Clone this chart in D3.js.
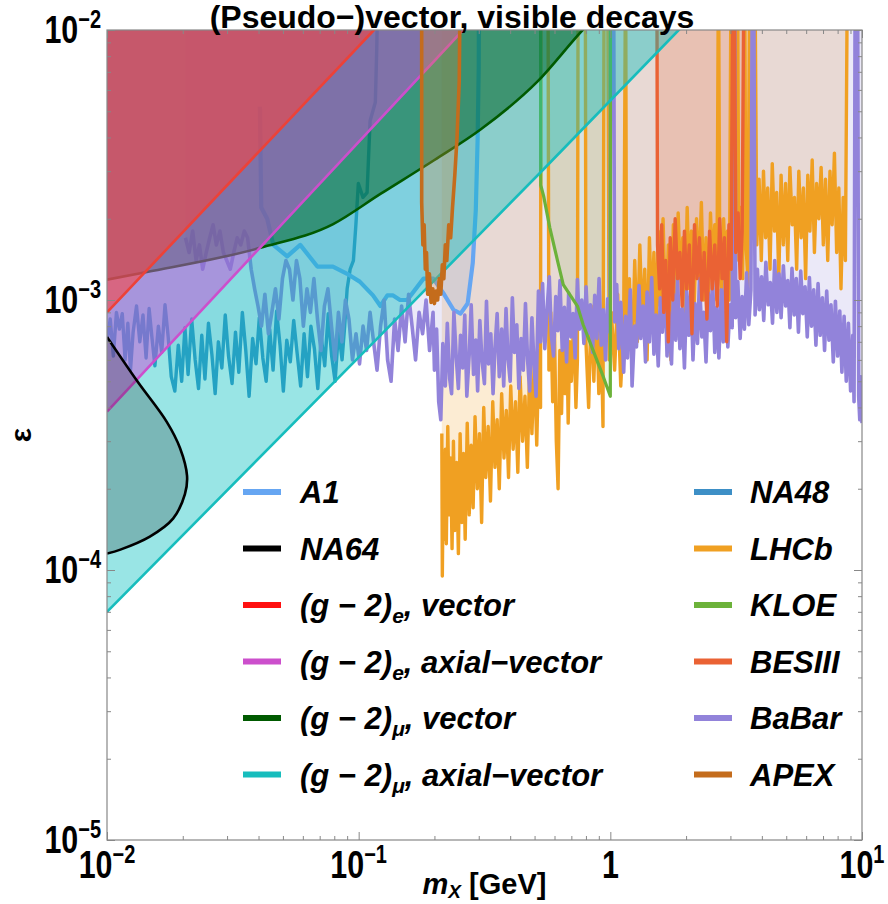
<!DOCTYPE html>
<html>
<head>
<meta charset="utf-8">
<script src="https://cdn.jsdelivr.net/npm/d3@7"></script>
<style>
body { margin: 0; background: #fff; }
text { font-family: "Liberation Sans", Arial, sans-serif; font-weight: bold; fill: #000; }
</style>
</head>
<body>
<svg id="chart" width="888" height="904"></svg>
<script>
// ---- data: masses in GeV, experimental eps values in units of 1e-4 ----
var xDecades = [0.01, 0.1, 1, 10];
var yDecades = [1e-5, 1e-4, 1e-3, 1e-2];

// (g-2) bands, eps as plain numbers
var gm2eVector = [[0.01, 9.0e-4], [0.115, 1.0e-2], [0.3, 2.6e-2]];
var gm2eAxial = [[0.01, 3.86e-4], [0.26, 1.0e-2], [0.5, 1.93e-2]];
var gm2muVector = [[0.01, 1.19e-3], [0.0144, 1.27e-3], [0.0406, 1.56e-3], [0.0792, 1.91e-3],
    [0.122, 2.47e-3], [0.2, 3.3e-3], [0.305, 4.28e-3], [0.514, 6.45e-3], [0.776, 1.0e-2], [1.2, 1.5e-2]];
var gm2muAxial = [[0.01, 7.0e-5], [0.122, 7.4e-4], [0.543, 3.05e-3], [1.87, 1.0e-2], [4, 2.0e-2]];

var na64 = [[0.01, 7.3e-4], [0.0132, 5.0e-4], [0.0173, 3.53e-4], [0.0195, 2.83e-4], [0.0208, 2.23e-4],
    [0.0204, 1.91e-4], [0.0183, 1.55e-4], [0.0148, 1.33e-4], [0.0113, 1.19e-4], [0.01, 1.15e-4]];

var a1 = [[0.0405, 52], [0.041, 22], [0.0433, 20], [0.0458, 16], [0.052, 14.5], [0.0586, 16], [0.0685, 13.3],
    [0.079, 13.3], [0.09, 12.5], [0.101, 11.7], [0.114, 10.4], [0.122, 9.5], [0.13, 10.4], [0.137, 10.4],
    [0.146, 10.0], [0.156, 10.0], [0.181, 12.0], [0.198, 12.0], [0.217, 10.6], [0.238, 9.2], [0.254, 8.9],
    [0.271, 9.7], [0.284, 13.7], [0.292, 21.5], [0.297, 39.7], [0.3, 73], [0.301, 200]];

var na48 = [[0.01, 7.0], [0.0103, 8.5], [0.0106, 6.2], [0.0109, 9.0], [0.0112, 7.8], [0.0115, 8.9], [0.0118, 6.0],
    [0.0121, 8.2], [0.0124, 5.5], [0.0127, 7.6], [0.0131, 9.5], [0.0135, 7.0], [0.0139, 8.8], [0.0143, 6.1],
    [0.0147, 9.3], [0.0151, 7.2], [0.0155, 5.7], [0.016, 8.0], [0.0165, 6.4], [0.017, 9.6], [0.0175, 7.3],
    [0.018, 5.2], [0.0186, 4.6], [0.0192, 6.8], [0.0198, 5.0], [0.0204, 7.9], [0.021, 5.3], [0.0217, 8.5],
    [0.0224, 6.0], [0.0231, 4.7], [0.0238, 7.4], [0.0245, 5.1], [0.0253, 8.2], [0.0261, 6.3], [0.0269, 4.5],
    [0.0277, 7.0], [0.0286, 5.6], [0.0295, 8.8], [0.0304, 6.2], [0.0314, 4.9], [0.0324, 7.6], [0.0334, 5.4],
    [0.0345, 9.0], [0.0356, 6.5], [0.0367, 4.4], [0.0379, 7.2], [0.0391, 5.8], [0.0403, 8.6], [0.0416, 6.1],
    [0.0429, 5.0], [0.0443, 7.8], [0.0457, 5.5], [0.0472, 9.1], [0.0487, 6.8], [0.0502, 4.6], [0.0518, 7.1],
    [0.0535, 5.9], [0.0552, 8.4], [0.057, 6.3], [0.0588, 4.8], [0.0607, 7.5], [0.0626, 5.2], [0.0646, 8.0],
    [0.0667, 6.6], [0.0688, 4.7], [0.071, 7.3], [0.0733, 5.7], [0.0757, 8.9], [0.0781, 6.2], [0.0806, 5.0],
    [0.0832, 7.7], [0.0859, 6.0], [0.088, 8.0], [0.09, 11], [0.0925, 13], [0.0953, 14], [0.0975, 19],
    [0.0997, 27], [0.104, 24], [0.108, 25], [0.111, 46], [0.1165, 54], [0.118, 85], [0.12, 200]];

var apex = [[0.178, 200], [0.178, 23], [0.18, 16], [0.182, 19], [0.184, 13], [0.186, 15], [0.188, 10.5],
    [0.191, 12.5], [0.194, 9.8], [0.197, 11], [0.2, 9.7], [0.203, 10.8], [0.206, 10], [0.209, 12],
    [0.212, 10.5], [0.215, 13.5], [0.218, 12], [0.221, 16], [0.224, 14], [0.228, 19], [0.232, 17],
    [0.236, 22], [0.241, 29], [0.246, 40], [0.251, 65], [0.254, 200]];

var kloe = [[0.528, 200], [0.529, 26.6], [0.543, 24.3], [0.575, 18.5], [0.62, 13.7], [0.65, 11.4],
    [0.74, 9.5], [0.78, 8.1], [0.86, 6.4], [0.93, 5.3], [1.0, 4.4], [1.001, 200]];

var besiii = [[1.53, 200], [1.54, 16], [1.57, 11], [1.6, 19], [1.63, 9.0], [1.66, 14], [1.7, 7.0], [1.73, 17],
    [1.77, 10], [1.81, 20], [1.85, 12], [1.89, 15], [1.93, 9.5], [1.97, 18], [2.01, 11], [2.06, 16], [2.11, 7.5],
    [2.16, 19], [2.21, 12], [2.26, 17], [2.31, 10], [2.36, 15], [2.42, 8.5], [2.48, 18], [2.54, 11], [2.6, 16],
    [2.66, 9.5], [2.72, 20], [2.78, 12], [2.84, 17], [2.9, 7.0], [2.96, 19], [3.02, 13], [3.07, 200], [3.11, 200],
    [3.15, 15], [3.22, 21], [3.28, 12], [3.34, 18], [3.4, 200]];

var lhcb = [[0.214, 3.2], [0.215, 0.95], [0.217, 2.4], [0.219, 1.3], [0.221, 2.8], [0.223, 1.25], [0.226, 3.4],
    [0.229, 1.6], [0.232, 2.6], [0.235, 1.2], [0.238, 3.0], [0.241, 1.4], [0.245, 2.5], [0.249, 1.15],
    [0.253, 3.2], [0.257, 1.5], [0.261, 2.7], [0.265, 1.3], [0.27, 3.5], [0.275, 1.6], [0.28, 2.9], [0.285, 1.7],
    [0.29, 3.7], [0.296, 2.0], [0.302, 3.2], [0.308, 1.5], [0.314, 4.0], [0.32, 2.2], [0.327, 3.4], [0.334, 1.8],
    [0.341, 4.2], [0.348, 2.4], [0.355, 3.6], [0.362, 2.0], [0.37, 4.5], [0.378, 2.6], [0.386, 3.9], [0.394, 2.2],
    [0.402, 4.8], [0.411, 2.8], [0.42, 4.2], [0.429, 2.3], [0.438, 5.2], [0.448, 3.0], [0.458, 4.4], [0.468, 2.4],
    [0.478, 5.6], [0.488, 3.2], [0.499, 6.0], [0.51, 2.9], [0.52, 6.5], [0.528, 4.0], [0.53, 200], [0.565, 200],
    [0.57, 5.5], [0.58, 9.0], [0.59, 4.2], [0.6, 7.5], [0.61, 3.0], [0.62, 2.0], [0.63, 6.5], [0.64, 3.8],
    [0.65, 8.0], [0.66, 4.5], [0.67, 9.0], [0.68, 3.5], [0.69, 7.0], [0.7, 5.0], [0.715, 8.5], [0.73, 4.0],
    [0.74, 6.0], [0.745, 200], [0.795, 200], [0.8, 7.0], [0.82, 4.0], [0.84, 9.5], [0.86, 5.0], [0.88, 10],
    [0.9, 4.5], [0.92, 7.5], [0.935, 3.4], [0.945, 200], [0.975, 200], [0.99, 6.0], [1.01, 9.0], [1.04, 5.5],
    [1.07, 10.5], [1.1, 4.8], [1.13, 8.0], [1.15, 200], [1.16, 7.0], [1.19, 12], [1.22, 5.5], [1.25, 14],
    [1.28, 7.0], [1.31, 16], [1.34, 8.0], [1.37, 13], [1.4, 6.0], [1.43, 17], [1.46, 9.0], [1.49, 15], [1.52, 7.0],
    [1.55, 18], [1.58, 9.5], [1.62, 20], [1.66, 8.0], [1.7, 16], [1.74, 6.0], [1.78, 19], [1.82, 10], [1.86, 21],
    [1.9, 12], [1.94, 17], [1.98, 9.0], [2.02, 22], [2.06, 11], [2.1, 18], [2.15, 8.5], [2.2, 20], [2.25, 12],
    [2.3, 23], [2.35, 10], [2.4, 17], [2.45, 9.0], [2.5, 21], [2.55, 13], [2.6, 19], [2.65, 10], [2.69, 200],
    [2.72, 16], [2.77, 9.5], [2.82, 20], [2.87, 12], [2.92, 18], [2.97, 10], [3.02, 200], [3.2, 200], [3.24, 14],
    [3.3, 22], [3.36, 12], [3.42, 200], [3.45, 18], [3.52, 11], [3.58, 200], [3.75, 200], [3.82, 16], [3.9, 28],
    [3.98, 14], [4.06, 30], [4.14, 17], [4.22, 26], [4.31, 13], [4.4, 32], [4.49, 18], [4.58, 25], [4.67, 12],
    [4.77, 29], [4.87, 16], [4.97, 27], [5.07, 14], [5.17, 31], [5.28, 19], [5.39, 24], [5.5, 13], [5.61, 30],
    [5.73, 17], [5.85, 26], [5.97, 12], [6.09, 29], [6.21, 18], [6.34, 33], [6.47, 15], [6.6, 27], [6.74, 20],
    [6.88, 31], [7.02, 16], [7.16, 28], [7.31, 14], [7.46, 30], [7.61, 19], [7.77, 35], [7.93, 15], [8.09, 26],
    [8.25, 11], [8.42, 24], [8.59, 14], [8.76, 200], [8.9, 200]];

var babar = [[0.0205, 17], [0.0212, 15], [0.0219, 18], [0.0226, 14], [0.0233, 16], [0.024, 13], [0.0248, 15],
    [0.0256, 17], [0.0264, 19], [0.0272, 16], [0.0281, 18], [0.029, 15], [0.0299, 14], [0.0309, 13], [0.0319, 15],
    [0.0329, 17], [0.034, 16], [0.0351, 18], [0.0362, 17], [0.0374, 13], [0.0386, 11], [0.0398, 9.5], [0.0411, 8.0],
    [0.0424, 10.5], [0.0438, 7.5], [0.0452, 9.0], [0.0467, 11], [0.0482, 8.5], [0.0498, 12], [0.0514, 14],
    [0.0531, 13], [0.0548, 10], [0.0566, 14], [0.0584, 12], [0.0603, 8.0], [0.0623, 11], [0.0643, 9.0],
    [0.0664, 12], [0.0686, 8.5], [0.0708, 6.5], [0.0731, 9.5], [0.0755, 11], [0.078, 8.0], [0.0805, 6.0],
    [0.0831, 9.0], [0.0858, 7.0], [0.0886, 10], [0.0915, 8.5], [0.0945, 6.0], [0.0976, 7.5], [0.1008, 5.8],
    [0.1041, 8.0], [0.1075, 6.5], [0.111, 9.0], [0.1146, 7.0], [0.1183, 5.5], [0.1222, 8.0], [0.1262, 10],
    [0.1303, 6.0], [0.1345, 5.0], [0.1389, 8.5], [0.1434, 6.5], [0.1481, 9.5], [0.1529, 7.0], [0.1579, 10.5],
    [0.163, 8.0], [0.1683, 6.0], [0.1738, 9.0], [0.1795, 7.5], [0.1853, 10], [0.1913, 6.5], [0.1975, 9.0],
    [0.2, 5.5], [0.204, 7.8], [0.208, 4.2], [0.212, 3.6], [0.216, 6.9], [0.221, 4.8], [0.225, 8.2], [0.23, 5.1],
    [0.234, 4.5], [0.239, 9.0], [0.244, 6.2], [0.249, 4.7], [0.254, 7.4], [0.259, 5.6], [0.264, 8.8], [0.269, 4.4],
    [0.275, 6.3], [0.28, 9.6], [0.286, 5.3], [0.292, 7.1], [0.297, 4.6], [0.303, 8.4], [0.309, 6.0], [0.316, 4.9],
    [0.322, 9.9], [0.328, 5.8], [0.335, 7.5], [0.342, 4.5], [0.348, 6.6], [0.355, 8.9], [0.362, 5.2], [0.37, 7.8],
    [0.377, 4.8], [0.385, 9.3], [0.392, 6.1], [0.4, 5.0], [0.408, 10.2], [0.416, 6.4], [0.425, 8.1], [0.433, 4.7],
    [0.442, 7.2], [0.451, 5.5], [0.46, 9.7], [0.469, 6.0], [0.478, 4.6], [0.488, 8.6], [0.497, 5.9], [0.507, 4.4],
    [0.518, 10.8], [0.528, 7.0], [0.538, 11.5], [0.549, 6.6], [0.56, 9.1], [0.572, 12.2], [0.583, 7.4], [0.595, 6.2],
    [0.607, 10.3], [0.619, 7.7], [0.631, 11.8], [0.644, 6.5], [0.657, 9.4], [0.67, 5.9], [0.683, 10.6], [0.697, 7.3],
    [0.711, 8.9], [0.725, 6.1], [0.74, 11.9], [0.754, 7.8], [0.77, 10.0], [0.785, 6.9], [0.801, 11.2], [0.817, 7.5],
    [0.833, 9.6], [0.85, 6.4], [0.867, 10.4], [0.884, 7.2], [0.902, 12.0], [0.92, 6.8], [0.938, 9.2], [0.957, 6.0],
    [0.976, 10.1], [0.996, 7.6], [1.005, 200], [1.03, 200], [1.04, 8.3], [1.06, 11.4], [1.08, 6.6], [1.1, 9.8],
    [1.13, 5.4], [1.15, 8.7], [1.17, 6.1], [1.2, 10.9], [1.22, 4.8], [1.25, 8.0], [1.27, 6.7], [1.3, 11.3],
    [1.32, 7.2], [1.35, 9.5], [1.38, 5.9], [1.4, 10.7], [1.43, 7.0], [1.46, 12.1], [1.49, 6.3], [1.52, 8.8],
    [1.55, 5.7], [1.58, 10.2], [1.61, 7.6], [1.65, 11.6], [1.68, 6.2], [1.71, 9.0], [1.75, 5.8], [1.78, 10.5],
    [1.82, 7.1], [1.85, 12.3], [1.89, 6.6], [1.93, 9.3], [1.97, 5.6], [2.01, 10.8], [2.05, 7.4], [2.09, 11.1],
    [2.13, 6.0], [2.17, 9.7], [2.22, 6.9], [2.26, 12.0], [2.31, 7.3], [2.35, 9.0], [2.4, 5.9], [2.45, 10.6],
    [2.5, 7.7], [2.55, 11.9], [2.6, 6.4], [2.65, 9.4], [2.7, 6.1], [2.76, 10.9], [2.81, 7.0], [2.87, 12.4],
    [2.93, 6.7], [2.99, 9.6], [3.05, 7.9], [3.08, 200], [3.12, 200], [3.15, 8.6], [3.21, 11.7], [3.28, 7.2],
    [3.34, 10.3], [3.41, 7.8], [3.48, 12.6], [3.55, 8.1], [3.62, 10.9], [3.67, 200], [3.71, 200], [3.76, 8.8],
    [3.84, 13.0], [3.91, 9.2], [3.99, 12.2], [4.07, 8.4], [4.15, 13.8], [4.24, 9.6], [4.32, 11.6], [4.41, 8.2],
    [4.5, 14.0], [4.59, 9.0], [4.68, 12.5], [4.77, 8.6], [4.87, 13.4], [4.97, 9.5], [5.07, 11.8], [5.17, 7.9],
    [5.27, 13.1], [5.38, 8.8], [5.48, 12.0], [5.59, 7.6], [5.71, 12.8], [5.82, 8.9], [5.94, 11.2], [6.06, 7.3],
    [6.18, 12.1], [6.3, 8.0], [6.43, 10.9], [6.56, 6.8], [6.69, 11.5], [6.82, 7.4], [6.96, 10.2], [7.1, 6.5],
    [7.24, 10.8], [7.39, 7.1], [7.53, 9.6], [7.69, 5.9], [7.84, 9.9], [8.0, 6.2], [8.16, 9.1], [8.32, 5.4],
    [8.49, 8.7], [8.66, 5.0], [8.83, 8.2], [9.01, 4.6], [9.19, 7.4], [9.3, 4.2], [9.4, 200], [9.6, 200],
    [9.7, 4.4], [9.8, 3.6], [9.9, 5.2], [10.0, 3.5]];

var legendLeft = [
    {label: "A1", color: "#66a6f2"},
    {label: "NA64", color: "#000000"},
    {label: ["(g − 2)", "e", ", vector"], color: "#ff1010"},
    {label: ["(g − 2)", "e", ", axial−vector"], color: "#cc4fcc"},
    {label: ["(g − 2)", "μ", ", vector"], color: "#005a00"},
    {label: ["(g − 2)", "μ", ", axial−vector"], color: "#17bdbd"}
];
var legendRight = [
    {label: "NA48", color: "#3d8fc6"},
    {label: "LHCb", color: "#f0a022"},
    {label: "KLOE", color: "#6cb23a"},
    {label: "BESIII", color: "#ea6234"},
    {label: "BaBar", color: "#9283da"},
    {label: "APEX", color: "#c46c1c"}
];

// ---- chart ----
var svg = d3.select("#chart");
var pLeft = 107, pRight = 862, pTop = 30, pBottom = 840;

var x = d3.scaleLog().domain([0.01, 10]).range([pLeft, pRight]);
var y = d3.scaleLog().domain([1e-5, 1e-2]).range([pBottom, pTop]);

svg.append("clipPath").attr("id", "plotclip")
    .append("rect")
    .attr("x", pLeft).attr("y", pTop)
    .attr("width", pRight - pLeft).attr("height", pBottom - pTop);

var plot = svg.append("g").attr("clip-path", "url(#plotclip)");

var expLine = d3.line().x(d => x(d[0])).y(d => y(d[1] * 1e-4));
var expArea = d3.area().x(d => x(d[0])).y0(0).y1(d => y(d[1] * 1e-4));
var gLine = d3.line().x(d => x(d[0])).y(d => y(d[1]));
var gArea = d3.area().x(d => x(d[0])).y0(0).y1(d => y(d[1]));

var experiments = [
    {data: na48, color: "#3d8fc6", fillOp: 0.15, w: 3.4},
    {data: a1, color: "#66a6f2", fillOp: 0.18, w: 4.2},
    {data: lhcb, color: "#f0a022", fillOp: 0.2, w: 3.4},
    {data: babar, color: "#9283da", fillOp: 0.18, w: 3.6},
    {data: kloe, color: "#6cb23a", fillOp: 0.12, w: 3.2},
    {data: besiii, color: "#ea6234", fillOp: 0.2, w: 3.4}
];

// light exclusion fills first
experiments.forEach(function(e) {
    plot.append("path")
        .attr("d", expArea(e.data))
        .attr("fill", e.color)
        .attr("fill-opacity", e.fillOp);
});

// experiment curves that sit under the (g-2) bands
experiments.forEach(function(e) {
    plot.append("path")
        .attr("d", expLine(e.data))
        .attr("fill", "none")
        .attr("stroke", e.color)
        .attr("stroke-width", e.w)
        .attr("stroke-linejoin", "round");
});

// (g-2) bands, bottom to top
var bands = [
    {data: gm2muAxial, fill: "#00bfbf", op: 0.4, stroke: "#17bdbd"},
    {data: gm2muVector, fill: "#006428", op: 0.55, stroke: "#005a00", curve: true},
    {data: gm2eAxial, fill: "#c850d7", op: 0.5, stroke: "#cc4fcc"},
    {data: gm2eVector, fill: "#ff4038", op: 0.55, stroke: "#ec4238"}
];
bands.forEach(function(b) {
    var ar = gArea, ln = gLine;
    if (b.curve) {
        ar = gArea.curve(d3.curveMonotoneX);
        ln = gLine.curve(d3.curveMonotoneX);
    }
    plot.append("path").attr("d", ar(b.data))
        .attr("fill", b.fill).attr("fill-opacity", b.op);
    plot.append("path").attr("d", ln(b.data))
        .attr("fill", "none").attr("stroke", b.stroke).attr("stroke-width", 2.6);
    gArea.curve(d3.curveLinear);
    gLine.curve(d3.curveLinear);
});

// NA64 closed region against the left edge
var na64Line = d3.line().x(d => x(d[0])).y(d => y(d[1])).curve(d3.curveCatmullRom);
plot.append("path").attr("d", na64Line(na64) + "Z")
    .attr("fill", "#000").attr("fill-opacity", 0.2);
plot.append("path").attr("d", na64Line(na64))
    .attr("fill", "none").attr("stroke", "#000").attr("stroke-width", 2.6);

// APEX on top
plot.append("path").attr("d", expArea(apex))
    .attr("fill", "#d88a40").attr("fill-opacity", 0.3);
plot.append("path").attr("d", expLine(apex))
    .attr("fill", "none").attr("stroke", "#c46c1c").attr("stroke-width", 3.6)
    .attr("stroke-linejoin", "round");

// ---- frame and ticks ----
var xMinor = x.ticks().filter(v => xDecades.indexOf(v) < 0);
var yMinor = y.ticks().filter(v => yDecades.indexOf(v) < 0);

function tickGroup(axis, tx, ty) {
    var g = svg.append("g").attr("transform", "translate(" + tx + "," + ty + ")").call(axis);
    g.select(".domain").remove();
    g.selectAll("line").attr("stroke", "#888");
    g.selectAll("text").remove();
}
tickGroup(d3.axisBottom(x).tickValues(xDecades).tickSize(-8), 0, pBottom);
tickGroup(d3.axisBottom(x).tickValues(xMinor).tickSize(-4), 0, pBottom);
tickGroup(d3.axisTop(x).tickValues(xDecades).tickSize(-8), 0, pTop);
tickGroup(d3.axisTop(x).tickValues(xMinor).tickSize(-4), 0, pTop);
tickGroup(d3.axisLeft(y).tickValues(yDecades).tickSize(-8), pLeft, 0);
tickGroup(d3.axisLeft(y).tickValues(yMinor).tickSize(-4), pLeft, 0);
tickGroup(d3.axisRight(y).tickValues(yDecades).tickSize(-8), pRight, 0);
tickGroup(d3.axisRight(y).tickValues(yMinor).tickSize(-4), pRight, 0);

svg.append("rect")
    .attr("x", pLeft).attr("y", pTop)
    .attr("width", pRight - pLeft).attr("height", pBottom - pTop)
    .attr("fill", "none").attr("stroke", "#888").attr("stroke-width", 1.2);

// tick labels: condensed bold, 10 with superscript exponent
function powLabel(px, py, v, anchor) {
    var e = Math.round(Math.log10(v));
    var t = svg.append("g")
        .attr("transform", "translate(" + px + "," + py + ") scale(0.8,1)")
        .append("text").attr("text-anchor", anchor).attr("font-size", 38);
    if (e === 0) {
        t.append("tspan").text("1");
        return;
    }
    t.append("tspan").text("10");
    t.append("tspan").attr("dy", -15).attr("font-size", 25)
        .text(e < 0 ? "−" + (-e) : "" + e);
}

xDecades.forEach(function(v) {
    powLabel(x(v), 878, v, "middle");
});
yDecades.forEach(function(v) {
    powLabel(101, y(v) + 13, v, "end");
});

// titles
svg.append("text").attr("x", 452).attr("y", 28)
    .attr("text-anchor", "middle").attr("font-size", 32)
    .text("(Pseudo−)vector, visible decays");

svg.append("text")
    .attr("transform", "translate(31," + ((pTop + pBottom) / 2) + ") rotate(-90)")
    .attr("text-anchor", "middle").attr("font-size", 30)
    .text("ε");

var xl = svg.append("text").attr("x", (pLeft + pRight) / 2).attr("y", 894)
    .attr("text-anchor", "middle").attr("font-size", 29);
xl.append("tspan").attr("font-style", "italic").text("m");
xl.append("tspan").attr("font-style", "italic").attr("font-size", 19).attr("dy", 4).text("X");
xl.append("tspan").attr("dy", -4).text(" [GeV]");

// ---- legend ----
function legendColumn(items, sx, tx) {
    items.forEach(function(it, i) {
        var ry = 492 + 56.5 * i;
        svg.append("line")
            .attr("x1", sx).attr("x2", sx + 38)
            .attr("y1", ry).attr("y2", ry)
            .attr("stroke", it.color).attr("stroke-width", 6);
        var t = svg.append("text").attr("x", tx).attr("y", ry + 11)
            .attr("font-size", 31).attr("font-style", "italic");
        if (typeof it.label === "string") {
            t.text(it.label);
        } else {
            t.append("tspan").text(it.label[0]);
            t.append("tspan").attr("font-size", 21).attr("dy", 7).text(it.label[1]);
            t.append("tspan").attr("dy", -7).text(it.label[2]);
        }
    });
}
legendColumn(legendLeft, 243, 300);
legendColumn(legendRight, 694, 750);
</script>
</body>
</html>
